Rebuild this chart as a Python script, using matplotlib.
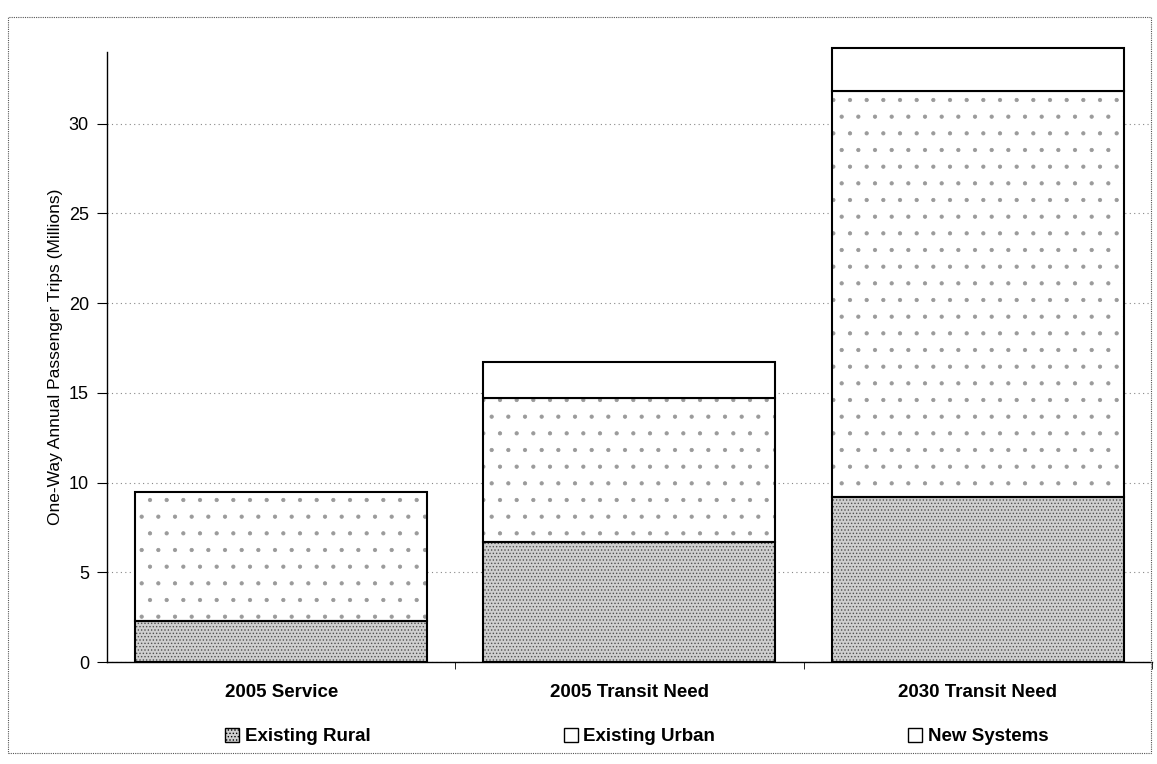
"""
Stacked bars: one-way annual passenger trips by service type
"""

import matplotlib.pyplot as plt
import matplotlib.patches as mpatches
import numpy as np

# ============================================================================
# Data
# ============================================================================
categories = ['2005 Service', '2005 Transit Need', '2030 Transit Need']
series_names = ['Existing Rural', 'Existing Urban', 'New Systems']
existing_rural = [2.3, 6.7, 9.2]
existing_urban = [7.2, 8.0, 22.6]
new_systems = [0.0, 2.0, 2.4]
y_ticks = [0, 5, 10, 15, 20, 25, 30]

# ============================================================================
# Style
# ============================================================================
plt.rcParams['font.family'] = ['Liberation Sans', 'DejaVu Sans']
plt.rcParams['hatch.linewidth'] = 0.6

fig = plt.figure(figsize=(11.57, 7.64), dpi=100)
ax = fig.add_axes([0.0925, 0.1335, 0.903, 0.7985])

x = np.arange(len(categories))
width = 0.838

rural = np.array(existing_rural)
urban = np.array(existing_urban)
new = np.array(new_systems)

ax.bar(x, rural, width, color='#cfcfcf', edgecolor='#505050',
       hatch='.....', linewidth=0, zorder=3)
ax.bar(x, urban, width, bottom=rural, color='white', edgecolor='#9a9a9a',
       hatch='.', linewidth=0, zorder=3)
for i in range(len(categories)):
    left = x[i] - width / 2
    ax.add_patch(mpatches.Rectangle((left, 0), width, rural[i], fill=False,
                                    edgecolor='black', linewidth=1.5, zorder=4))
    ax.add_patch(mpatches.Rectangle((left, rural[i]), width, urban[i], fill=False,
                                    edgecolor='black', linewidth=1.5, zorder=4))
    if new[i] > 0:
        ax.add_patch(mpatches.Rectangle((left, rural[i] + urban[i]), width, new[i],
                                        facecolor='white', edgecolor='black',
                                        linewidth=1.5, zorder=4, clip_on=False))

ax.set_ylim(0, 34)
ax.set_xlim(-0.5, 2.5)
ax.set_yticks(y_ticks)
ax.set_yticklabels([str(t) for t in y_ticks], fontsize=13)
ax.yaxis.grid(True, linestyle=(0, (1, 3)), color='#888888', linewidth=0.8, zorder=0)
ax.set_axisbelow(True)

ax.set_xticks(x)
ax.set_xticklabels(categories, fontsize=13.5, fontweight='bold')
ax.tick_params(axis='x', which='major', length=0, pad=16)
ax.set_xticks([0.5, 1.5, 2.5], minor=True)
ax.tick_params(axis='x', which='minor', length=5, direction='out')
ax.tick_params(axis='y', length=7, direction='out', pad=6)

ax.spines['top'].set_visible(False)
ax.spines['right'].set_visible(False)
ax.spines['left'].set_linewidth(1.0)
ax.spines['bottom'].set_linewidth(1.0)

ax.set_ylabel('One-Way Annual Passenger Trips (Millions)', fontsize=12.5, labelpad=4)

# Legend, one row below the category labels
handles = [
    mpatches.Patch(facecolor='#cfcfcf', edgecolor='black', hatch='.....'),
    mpatches.Patch(facecolor='white', edgecolor='black'),
    mpatches.Patch(facecolor='white', edgecolor='black'),
]
fig.legend(handles, series_names, loc='center left', bbox_to_anchor=(225 / 1157, 0.036),
           ncol=3, frameon=False, prop={'size': 13.5, 'weight': 'bold'},
           borderpad=0, borderaxespad=0,
           handlelength=0.75, handleheight=0.75, handletextpad=0.3, columnspacing=10.3)

# outer border
fig.patches.append(mpatches.Rectangle((0.007, 0.015), 0.988, 0.963, transform=fig.transFigure,
                                      fill=False, edgecolor='#555555', linewidth=0.8,
                                      linestyle=(0, (1, 1))))

plt.savefig('out.png', dpi=100)
plt.close()
